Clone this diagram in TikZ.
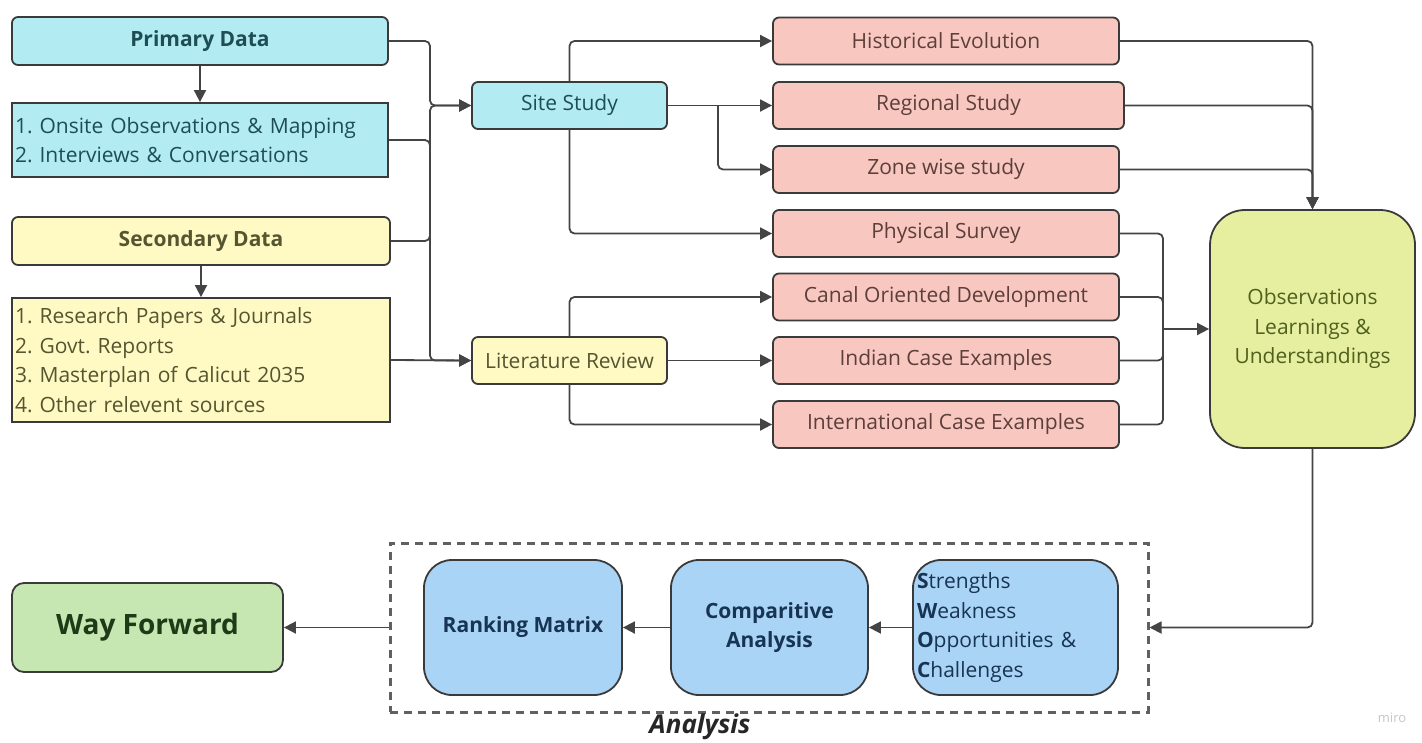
\documentclass[tikz,border=0pt]{standalone}
\usepackage{fontspec}
\setmainfont{Open Sans}
\usetikzlibrary{arrows.meta}
\frenchspacing

\definecolor{cyanfill}{RGB}{178,235,242}
\definecolor{yellowfill}{RGB}{255,249,196}
\definecolor{pinkfill}{RGB}{248,200,192}
\definecolor{limefill}{RGB}{230,238,160}
\definecolor{bluefill}{RGB}{170,212,245}
\definecolor{greenfill}{RGB}{198,231,178}
\definecolor{boxline}{RGB}{58,58,58}
\definecolor{linegray}{RGB}{68,68,68}
\definecolor{tealtext}{RGB}{30,78,84}
\definecolor{oldtext}{RGB}{85,85,48}
\definecolor{pinktext}{RGB}{92,62,58}
\definecolor{limetext}{RGB}{80,96,30}
\definecolor{navytext}{RGB}{24,52,84}
\definecolor{greentext}{RGB}{30,58,22}

\begin{document}
\begin{tikzpicture}[
  x=1pt, y=-1pt,
  box/.style={
    rectangle,
    draw=boxline,
    line width=1.8pt,
    inner sep=0pt,
    font=\fontsize{21}{29.5}\selectfont
  },
  cyanblock/.style={
    box,
    fill=cyanfill,
    text=tealtext,
    rounded corners=6pt
  },
  yellowblock/.style={
    box,
    fill=yellowfill,
    text=oldtext,
    rounded corners=6pt
  },
  pinkblock/.style={
    box,
    fill=pinkfill,
    text=pinktext,
    rounded corners=6pt,
    minimum width=346pt,
    minimum height=47pt
  },
  listblock/.style={
    box,
    align=left,
    inner xsep=3pt
  },
  blueblock/.style={
    box,
    fill=bluefill,
    text=navytext,
    rounded corners=28pt,
    minimum height=135pt
  },
  conn/.style={
    draw=linegray,
    line width=1.8pt,
    rounded corners=5pt,
    -{Triangle[length=12pt,width=12pt]}
  },
  plain/.style={
    draw=linegray,
    line width=1.8pt,
    rounded corners=5pt
  }]
  \useasboundingbox (0,0) rectangle (1422,742);
  % data sources
  \node [cyanblock, minimum width=376pt, minimum height=48pt, font=\fontsize{21}{24}\bfseries]
    (primary) at (200,41) {Primary Data};
  \node [listblock, fill=cyanfill, text=tealtext, text width=370pt, minimum height=74pt]
    (onsite) at (200,140) {1. Onsite Observations \& Mapping\\2. Interviews \& Conversations};
  \node [yellowblock, minimum width=378pt, minimum height=48pt, font=\fontsize{21}{24}\bfseries]
    (secondary) at (201,241) {Secondary Data};
  \node [listblock, fill=yellowfill, text=oldtext, text width=372pt, minimum height=124pt]
    (research) at (201,360) {1. Research Papers \& Journals\\2. Govt. Reports\\3. Masterplan of Calicut 2035\\4. Other relevent sources};
  % studies
  \node [cyanblock, minimum width=195pt, minimum height=47pt] (site) at (569.5,105.5) {Site Study};
  \node [yellowblock, minimum width=195pt, minimum height=47pt] (lit) at (569.5,360.5) {Literature Review};
  % topics
  \node [pinkblock] (hist) at (946,41) {Historical Evolution};
  \node [pinkblock, minimum width=351pt] (regional) at (948.5,105.5) {Regional Study};
  \node [pinkblock] (zone) at (946,169.5) {Zone wise study};
  \node [pinkblock] (physical) at (946,233.5) {Physical Survey};
  \node [pinkblock] (canal) at (946,297) {Canal Oriented Development};
  \node [pinkblock] (indian) at (946,360.5) {Indian Case Examples};
  \node [pinkblock] (intl) at (946,424.5) {International Case Examples};
  % observations
  \node [box, fill=limefill, text=limetext, rounded corners=35pt, align=center,
    minimum width=205pt, minimum height=238pt] (obs) at (1312.5,329)
    {Observations\\Learnings \&\\Understandings};
  % analysis
  \node [draw=gray!75!black, line width=3pt, dash pattern=on 8pt off 6pt,
    minimum width=758pt, minimum height=169pt, inner sep=0pt] (anbox) at (769,627.5) {};
  \node [font=\fontsize{26}{30}\bfseries\itshape, text=black!85] (anlabel) at (700,727) {Analysis};
  \node [blueblock, minimum width=198pt, font=\fontsize{21}{24}\bfseries] (rank) at (523,627.5) {Ranking Matrix};
  \node [blueblock, minimum width=197pt, align=center, font=\fontsize{21}{29.5}\bfseries]
    (compar) at (769.5,627.5) {Comparitive\\Analysis};
  \node [blueblock, minimum width=205pt, align=left, text width=197pt, inner xsep=4pt]
    (swoc) at (1015.5,627.5)
    {\textbf{S}trengths\\\textbf{W}eakness\\\textbf{O}pportunities \&\\\textbf{C}hallenges};
  \node [box, fill=greenfill, text=greentext, rounded corners=12pt,
    minimum width=271pt, minimum height=89pt, font=\fontsize{28}{32}\bfseries]
    (way) at (147.5,627.5) {Way Forward};
  \node [text=gray!45, font=\fontsize{13}{15}\selectfont] (miro) at (1392,718) {miro};
  % junctions
  \coordinate (insite) at (430,105.5);
  \coordinate (inlit) at (430,360.5);
  \coordinate (sitebr) at (718,105.5);
  \coordinate (phjoin) at (1163,329);
  % data to studies
  \draw [conn] (primary.east) -| (insite) -- (site.west);
  \draw [conn] (secondary.east) -| (insite) -- (site.west);
  \draw [conn] (onsite.east) -| (inlit) -- (lit.west);
  \draw [conn] (research.east) -- (lit.west);
  \draw [conn] (primary.south) -- (onsite.north);
  \draw [conn] (secondary.south) -- (research.north);
  % site study
  \draw [conn] (site.north) |- (hist.west);
  \draw [conn] (site.east) -- (regional.west);
  \draw [conn] (sitebr) |- (zone.west);
  \draw [conn] (site.south) |- (physical.west);
  % literature review
  \draw [conn] (lit.north) |- (canal.west);
  \draw [conn] (lit.east) -- (indian.west);
  \draw [conn] (lit.south) |- (intl.west);
  % to observations
  \draw [conn] (hist.east) -| (obs.north);
  \draw [conn] (regional.east) -| (obs.north);
  \draw [conn] (zone.east) -| (obs.north);
  \draw [plain] (physical.east) -| (phjoin);
  \draw [plain] (canal.east) -| (phjoin);
  \draw [plain] (indian.east) -| (phjoin);
  \draw [plain] (intl.east) -| (phjoin);
  \draw [conn] (phjoin) -- (obs.west);
  % analysis chain
  \draw [conn] (obs.south) |- (anbox.east);
  \draw [conn] (swoc.west) -- (compar.east);
  \draw [conn] (compar.west) -- (rank.east);
  \draw [conn] (anbox.west) -- (way.east);
\end{tikzpicture}
\end{document}
